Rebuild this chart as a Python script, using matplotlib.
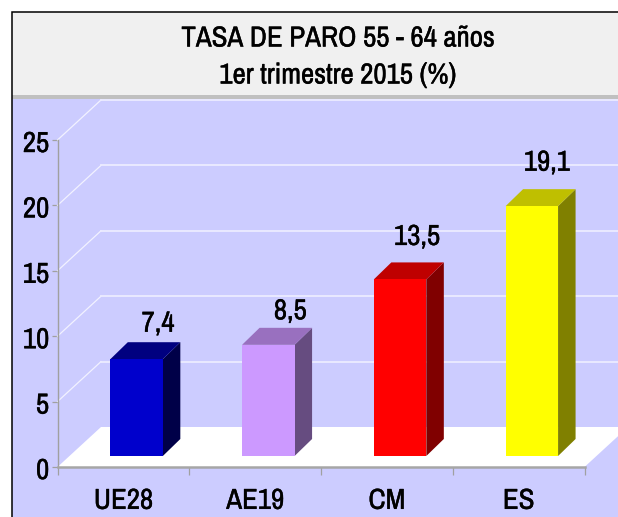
import matplotlib
matplotlib.use("Agg")
import matplotlib.pyplot as plt
import matplotlib.patheffects as pe
from matplotlib.patches import Polygon, Rectangle
from matplotlib.transforms import ScaledTranslation

categories = ["UE28", "AE19", "CM", "ES"]
values = [7.4, 8.5, 13.5, 19.1]
value_labels = ["7,4", "8,5", "13,5", "19,1"]
yticks = [0, 5, 10, 15, 20, 25]
title_lines = ["TASA DE PARO 55 - 64 años", "1er trimestre 2015 (%)"]
front_colors = ["#0000CC", "#CC99FF", "#FF0000", "#FFFF00"]
top_colors = ["#000080", "#9970BF", "#BF0000", "#BFBF00"]
side_colors = ["#000048", "#664C80", "#800000", "#808000"]

plt.rcParams["font.family"] = ["Archivo Narrow", "Liberation Sans", "DejaVu Sans"]
FS = 20.8
STROKE = [pe.withStroke(linewidth=0.3, foreground="black")]

W, H = 618, 517
fig = plt.figure(figsize=(W / 100, H / 100), dpi=100, facecolor="white")

# background panels in pixel coordinates
bg = fig.add_axes([0, 0, 1, 1], zorder=0)
bg.set_xlim(0, W)
bg.set_ylim(H, 0)
bg.axis("off")
bg.add_patch(Rectangle((11.5, 11.5), W, H, fc="#CCCCFF", ec="none"))
bg.add_patch(Rectangle((11.5, 11.5), W, 84, fc="#F0F0F0", ec="none"))
bg.add_patch(Rectangle((11.5, 95), W, 3.5, fc="#C0C0C0", ec="none"))
bg.plot([11.5, 11.5, W], [H, 11.5, 11.5], color="black", lw=1.1, solid_joinstyle="miter")
for t, yy in zip(title_lines, [38, 75]):
    bg.text(338, yy, t, ha="center", va="center", fontsize=FS, color="black", path_effects=STROKE)

# plot axes
AX_L, AX_R, AX_T, AX_B = 57.5, 584.5, 140.0, 467.0
ax = fig.add_axes([AX_L / W, 1 - AX_B / H, (AX_R - AX_L) / W, (AX_B - AX_T) / H], zorder=1)
ax.patch.set_alpha(0)
ax.set_xlim(0, len(categories))
ax.set_ylim(0, 25)
px_x = (AX_R - AX_L) / len(categories)
px_y = (AX_B - AX_T) / 25
DX, DY = 43.5 / px_x, 40 / px_y           # chart depth
SX, SY = 13.2 / px_x, 11 / px_y           # bar start within the depth
BX, BY = 17.5 / px_x, 17 / px_y           # bar depth
BW = 52.5 / px_x
RIGHT_EDGE = 4 + DX

# floor
ax.add_patch(Polygon([(0, 0), (DX, DY), (RIGHT_EDGE, DY), (4, 0)], fc="white", ec="none",
                     clip_on=False, zorder=1))
# gridlines
for v in yticks[1:]:
    ax.plot([0, DX], [v, v + DY], color="#F2F2FF", lw=0.9, clip_on=False, zorder=2)
    ax.plot([DX, RIGHT_EDGE], [v + DY, v + DY], color="#ECECFF", lw=1.3, clip_on=False, zorder=2)

# bars
label_offsets = [36, 34, 43, 44]
label_shift = [21.5, 22, 17, 15]
for i, (v, lab) in enumerate(zip(values, value_labels)):
    x0 = i + 0.5 + SX - BW / 2
    x1 = x0 + BW
    ax.bar(x0, v, width=BW, bottom=SY, align="edge", color=front_colors[i], clip_on=False, zorder=5)
    ax.add_patch(Polygon([(x1, SY), (x1 + BX, SY + BY), (x1 + BX, SY + BY + v), (x1, SY + v)],
                         fc=side_colors[i], ec="none", clip_on=False, zorder=4))
    ax.add_patch(Polygon([(x0, SY + v), (x0 + BX, SY + v + BY), (x1 + BX, SY + v + BY), (x1, SY + v)],
                         fc=top_colors[i], ec="none", clip_on=False, zorder=4))
    ax.annotate(lab, (i + 0.5 + SX, SY + v), xytext=(label_shift[i] * 0.72, label_offsets[i] * 0.72),
                textcoords="offset points", ha="center", va="center", fontsize=FS, color="black",
                annotation_clip=False, zorder=6, path_effects=STROKE)

# axes furniture
for s in ("top", "right"):
    ax.spines[s].set_visible(False)
ax.spines["left"].set_color("#A0A0A0")
ax.spines["left"].set_linewidth(1.0)
ax.spines["bottom"].set_color("#A6A6A6")
ax.spines["bottom"].set_linewidth(1.8)
for s in ax.spines.values():
    s.set_zorder(3)
ax.set_yticks(yticks)
ax.set_yticklabels([str(v) for v in yticks], fontsize=FS)
ax.set_xticks(range(len(categories) + 1))
ax.set_xticklabels([""] * (len(categories) + 1))
ax.tick_params(axis="y", length=4, width=0.9, color="#A0A0A0", pad=2)
ax.tick_params(axis="x", length=5.5, width=0.9, color="#A0A0A0")
down = ScaledTranslation(0, -1 / 100, fig.dpi_scale_trans)
for t in ax.get_yticklabels():
    t.set_path_effects(STROKE)
    t.set_transform(t.get_transform() + down)
for i, c in enumerate(categories):
    ax.annotate(c, (i + 0.5, 0), xytext=(0, -24), textcoords="offset points", ha="center", va="center",
                fontsize=FS, color="black", annotation_clip=False, path_effects=STROKE)

fig.savefig("out.png", dpi=100, facecolor="white")
